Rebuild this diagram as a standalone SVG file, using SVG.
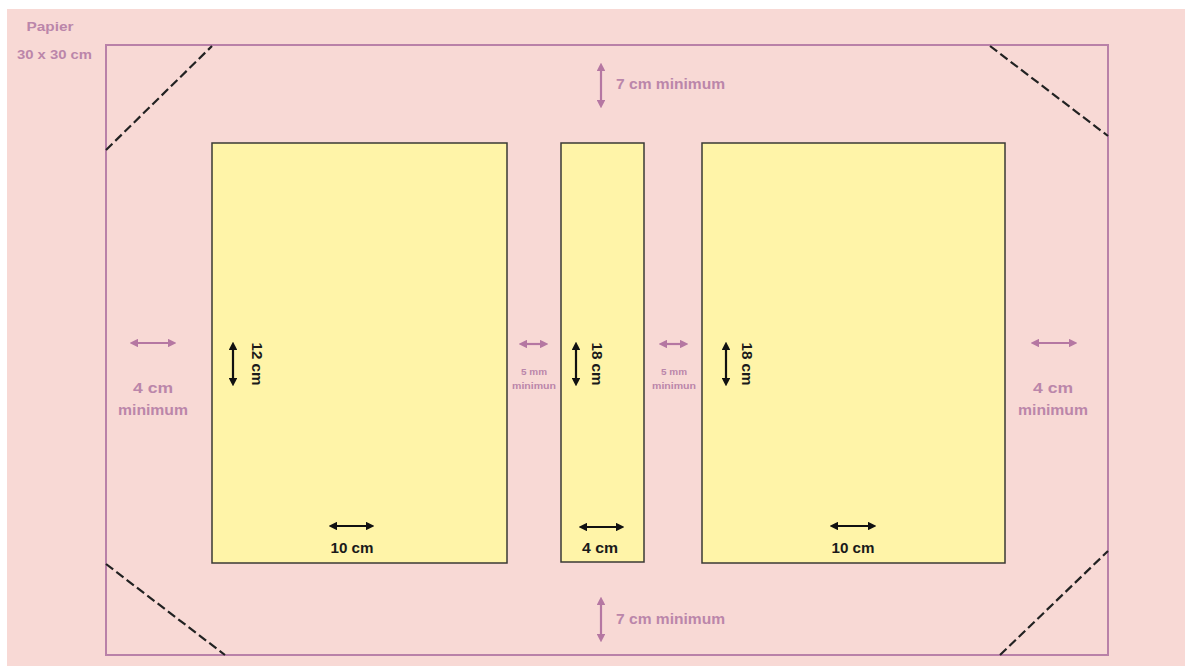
<svg xmlns="http://www.w3.org/2000/svg" width="1192" height="671" viewBox="0 0 1192 671">
<style>
.bg{fill:#f8d9d5}
.frame{fill:none;stroke:#b981a8;stroke-width:2}
.cut{stroke:#222;stroke-width:2.2;stroke-dasharray:9 4}
.photo{fill:#fff4a8;stroke:#3a3a35;stroke-width:1.5}
.mt{font-family:"Liberation Sans",Arial,sans-serif;font-weight:bold;fill:#bb86aa}
.bt{font-family:"Liberation Sans",Arial,sans-serif;font-weight:bold;fill:#1a1a1a;font-size:14px}
.ma{stroke:#b577a2;stroke-width:2.2;fill:none}
.ba{stroke:#111;stroke-width:2.2;fill:none}
</style>
<defs>
<marker id="mh" viewBox="0 0 10 10" refX="5" refY="5" markerWidth="4" markerHeight="4" orient="auto-start-reverse"><path d="M0,0 L10,5 L0,10 z" fill="#b577a2"/></marker>
<marker id="bh" viewBox="0 0 10 10" refX="5" refY="5" markerWidth="4" markerHeight="4" orient="auto-start-reverse"><path d="M0,0 L10,5 L0,10 z" fill="#111"/></marker>
</defs>
<rect class="bg" x="7" y="9" width="1178" height="657"/>
<g id="paper">
<rect class="frame" x="106" y="45" width="1002" height="610"/>
<text class="mt" x="50" y="31" font-size="13" text-anchor="middle" textLength="47" lengthAdjust="spacingAndGlyphs">Papier</text>
<text class="mt" x="54.5" y="59" font-size="13" text-anchor="middle" textLength="75" lengthAdjust="spacingAndGlyphs">30 x 30 cm</text>
</g>
<g id="corners">
<line class="cut" x1="106" y1="150" x2="212" y2="46"/>
<line class="cut" x1="990" y1="46" x2="1108" y2="136"/>
<line class="cut" x1="106" y1="564" x2="225" y2="655"/>
<line class="cut" x1="1000" y1="655" x2="1108" y2="551"/>
</g>
<g id="photo-left"><rect class="photo" x="212" y="143" width="295" height="420"/></g>
<g id="photo-middle"><rect class="photo" x="561" y="143" width="83" height="419"/></g>
<g id="photo-right"><rect class="photo" x="702" y="143" width="303" height="420"/></g>
<g id="connectors">
<line class="ma" x1="601" y1="67" x2="601" y2="104" marker-start="url(#mh)" marker-end="url(#mh)"/>
<line class="ma" x1="601" y1="601" x2="601" y2="638" marker-start="url(#mh)" marker-end="url(#mh)"/>
<line class="ma" x1="134" y1="343" x2="172" y2="343" marker-start="url(#mh)" marker-end="url(#mh)"/>
<line class="ma" x1="1035" y1="343" x2="1073" y2="343" marker-start="url(#mh)" marker-end="url(#mh)"/>
<line class="ma" x1="523" y1="344" x2="544" y2="344" marker-start="url(#mh)" marker-end="url(#mh)" stroke-width="1.6"/>
<line class="ma" x1="663" y1="344" x2="684" y2="344" marker-start="url(#mh)" marker-end="url(#mh)" stroke-width="1.6"/>
<line class="ba" x1="233" y1="346" x2="233" y2="382" marker-start="url(#bh)" marker-end="url(#bh)"/>
<line class="ba" x1="576" y1="346" x2="576" y2="382" marker-start="url(#bh)" marker-end="url(#bh)"/>
<line class="ba" x1="726" y1="346" x2="726" y2="382" marker-start="url(#bh)" marker-end="url(#bh)"/>
<line class="ba" x1="333" y1="526" x2="370" y2="526" marker-start="url(#bh)" marker-end="url(#bh)"/>
<line class="ba" x1="583" y1="527" x2="620" y2="527" marker-start="url(#bh)" marker-end="url(#bh)"/>
<line class="ba" x1="834" y1="526" x2="872" y2="526" marker-start="url(#bh)" marker-end="url(#bh)"/>
</g>
<g id="labels">
<text class="mt" x="616" y="89" font-size="14" textLength="109" lengthAdjust="spacingAndGlyphs">7 cm minimum</text>
<text class="mt" x="616" y="624" font-size="14" textLength="109" lengthAdjust="spacingAndGlyphs">7 cm minimum</text>
<text class="mt" x="153" y="393" font-size="14" text-anchor="middle" textLength="40" lengthAdjust="spacingAndGlyphs">4 cm</text>
<text class="mt" x="153" y="415" font-size="14" text-anchor="middle" textLength="70" lengthAdjust="spacingAndGlyphs">minimum</text>
<text class="mt" x="1053" y="393" font-size="14" text-anchor="middle" textLength="40" lengthAdjust="spacingAndGlyphs">4 cm</text>
<text class="mt" x="1053" y="415" font-size="14" text-anchor="middle" textLength="70" lengthAdjust="spacingAndGlyphs">minimum</text>
<text class="mt" x="534" y="375" font-size="9.5" text-anchor="middle" font-weight="normal" textLength="26" lengthAdjust="spacingAndGlyphs">5 mm</text>
<text class="mt" x="534" y="389" font-size="9.5" text-anchor="middle" font-weight="normal" textLength="44" lengthAdjust="spacingAndGlyphs">minimun</text>
<text class="mt" x="674" y="375" font-size="9.5" text-anchor="middle" font-weight="normal" textLength="26" lengthAdjust="spacingAndGlyphs">5 mm</text>
<text class="mt" x="674" y="389" font-size="9.5" text-anchor="middle" font-weight="normal" textLength="44" lengthAdjust="spacingAndGlyphs">minimun</text>
<text class="bt" transform="translate(252,364) rotate(90)" text-anchor="middle" textLength="43" lengthAdjust="spacingAndGlyphs">12 cm</text>
<text class="bt" transform="translate(592,364) rotate(90)" text-anchor="middle" textLength="43" lengthAdjust="spacingAndGlyphs">18 cm</text>
<text class="bt" transform="translate(742,364) rotate(90)" text-anchor="middle" textLength="43" lengthAdjust="spacingAndGlyphs">18 cm</text>
<text class="bt" x="352" y="553" text-anchor="middle" textLength="43" lengthAdjust="spacingAndGlyphs">10 cm</text>
<text class="bt" x="600" y="553" text-anchor="middle" textLength="36" lengthAdjust="spacingAndGlyphs">4 cm</text>
<text class="bt" x="853" y="553" text-anchor="middle" textLength="43" lengthAdjust="spacingAndGlyphs">10 cm</text>
</g>
</svg>
